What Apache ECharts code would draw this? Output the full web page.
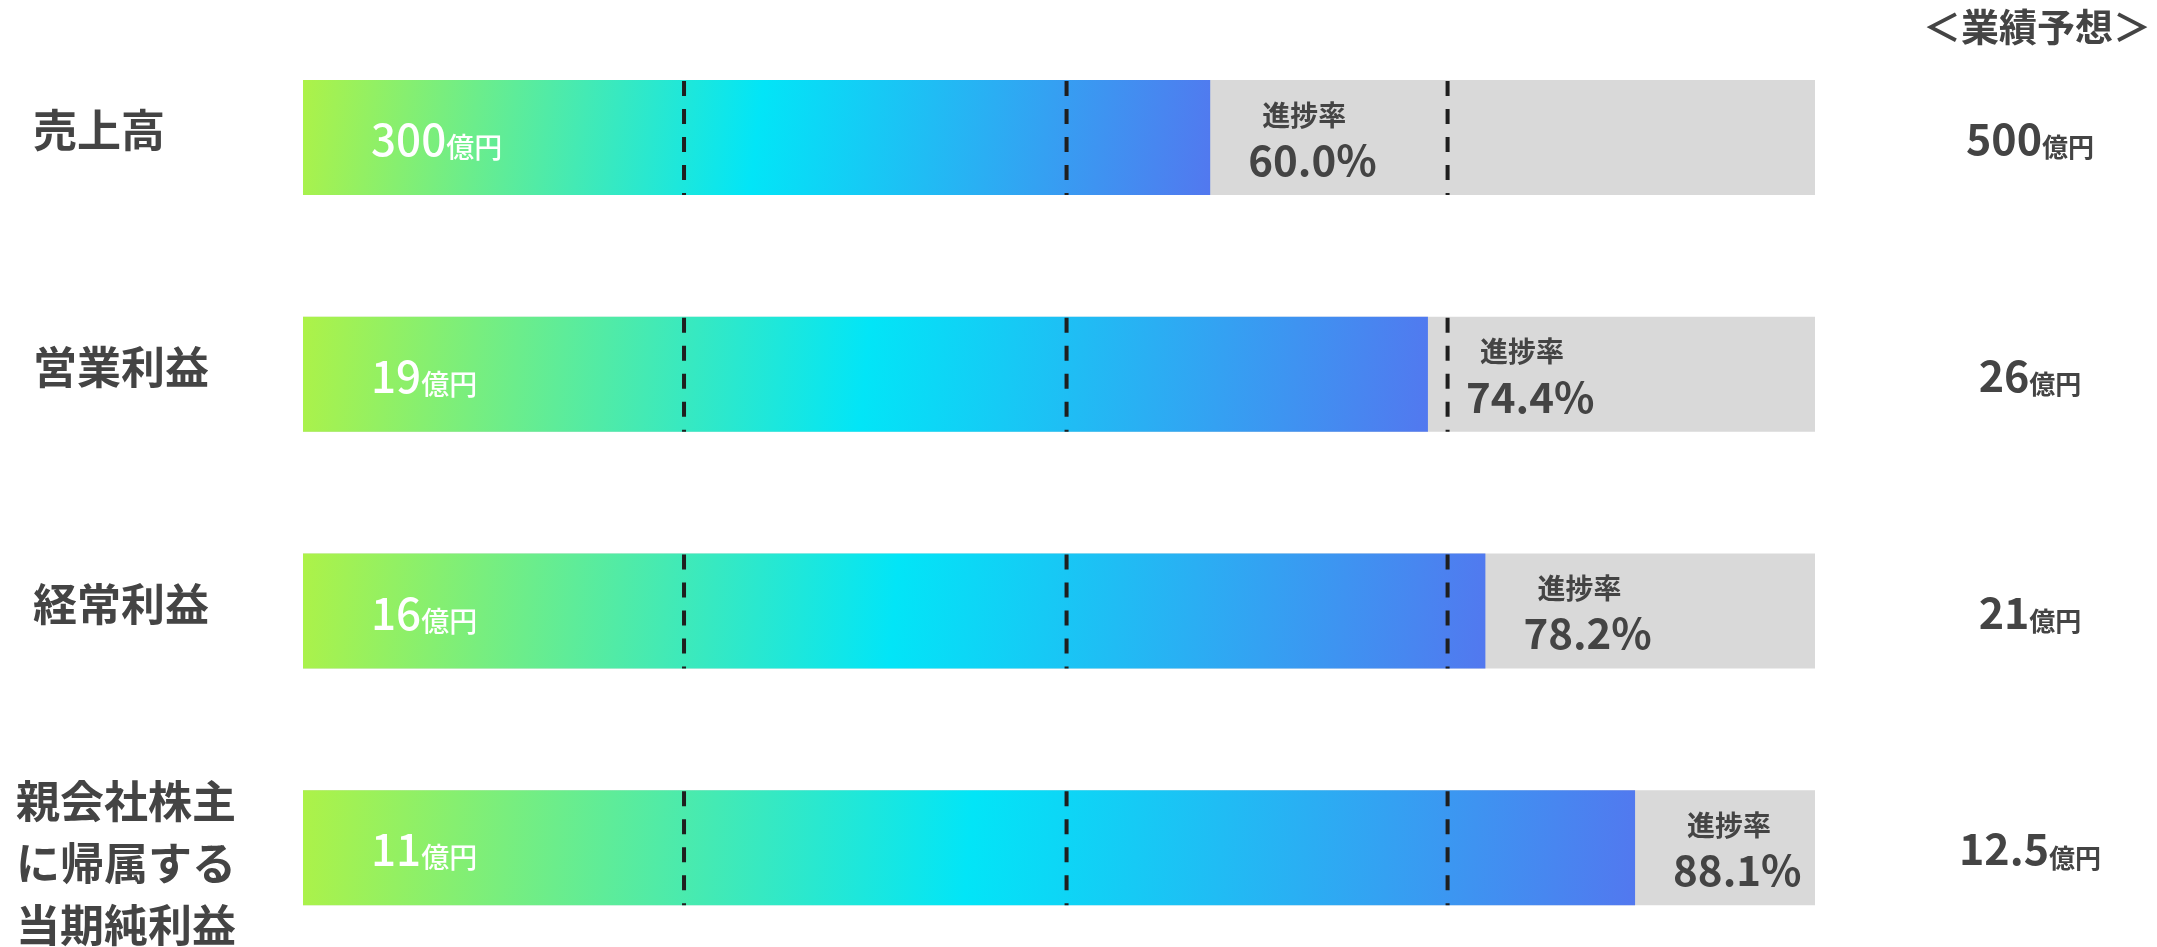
<!DOCTYPE html>
<html>
<head>
<meta charset="utf-8">
<script src="https://cdn.jsdelivr.net/npm/echarts@6/dist/echarts.min.js"></script>
<style>
html,body{margin:0;padding:0;background:#fff;overflow:hidden;width:2157px;height:947px;}
#chart{width:2157px;height:1000px;}
</style>
</head>
<body>
<div id="chart"></div>
<script>
// ---- data ----
const categories = ['売上高', '営業利益', '経常利益', '親会社株主\nに帰属する\n当期純利益'];
const actualValues = ['300', '19', '16', '11'];          // 億円
const forecastValues = ['500', '26', '21', '12.5'];      // 億円
const progressRates = [60.0, 74.4, 78.2, 88.1];          // %
const quarterMarks = [25.2, 50.5, 75.7];                 // dashed guide positions (%)
const forecastTitle = '＜業績予想＞';
const progressLabel = '進捗率';
const unitLabel = '億円';

const FONT = '"Noto Sans CJK JP", "Noto Sans", sans-serif';
const BAR_W = 115;
const TEXT = '#444444';

const chart = echarts.init(document.getElementById('chart'), null, {renderer: 'canvas'});

const gradient = new echarts.graphic.LinearGradient(0, 0, 1, 1, [
  {offset: 0, color: '#adf248'},
  {offset: 0.5, color: '#02e5f7'},
  {offset: 1, color: '#5278ef'}
]);

const option = {
  backgroundColor: '#ffffff',
  animation: false,
  textStyle: {fontFamily: FONT},
  title: {
    text: forecastTitle,
    left: 2032,
    top: 3,
    textAlign: 'center',
    textStyle: {fontFamily: FONT, fontSize: 38, fontWeight: 'bold', color: TEXT}
  },
  grid: {left: 303, width: 1512, top: 19, height: 947, containLabel: false},
  xAxis: {
    type: 'value', min: 0, max: 100,
    show: false
  },
  yAxis: [
    {
      type: 'category', inverse: true, data: categories,
      axisLine: {show: false}, axisTick: {show: false}, splitLine: {show: false},
      axisLabel: {
        align: 'left',
        margin: 287,
        lineHeight: 62,
        formatter: function (v, i) {
          if (v.indexOf('\n') >= 0) {
            const lines = v.split('\n');
            return '{sp|.}\n' + lines.map(function (l) { return '{m|' + l + '}'; }).join('\n');
          }
          return '{s|' + v + '}\n{sq|.}';
        },
        rich: {
          s: {fontFamily: FONT, fontSize: 44, fontWeight: 'bold', color: TEXT, lineHeight: 62, padding: [0, 0, 0, 17]},
          sp: {fontSize: 2, lineHeight: 31, color: 'rgba(0,0,0,0)'},
          sq: {fontSize: 2, lineHeight: 14, color: 'rgba(0,0,0,0)'},
          m: {fontFamily: FONT, fontSize: 44, fontWeight: 'bold', color: TEXT, lineHeight: 62}
        }
      }
    },
    {
      type: 'category', inverse: true, data: categories, position: 'right',
      axisLine: {show: false}, axisTick: {show: false}, splitLine: {show: false},
      axisLabel: {
        align: 'center',
        margin: 215,
        formatter: function (v, i) {
          return '{n|' + forecastValues[i] + '}{u|' + unitLabel + '}';
        },
        rich: {
          n: {fontFamily: FONT, fontSize: 43, fontWeight: 'bold', color: TEXT, verticalAlign: 'bottom', lineHeight: 46},
          u: {fontFamily: FONT, fontSize: 26, fontWeight: 'bold', color: TEXT, verticalAlign: 'bottom', lineHeight: 40}
        }
      }
    }
  ],
  series: [
    {
      type: 'bar',
      name: 'progress',
      data: progressRates,
      barWidth: BAR_W,
      showBackground: true,
      backgroundStyle: {color: '#d9d9d9'},
      itemStyle: {color: gradient},
      z: 2,
      label: {
        show: true,
        position: 'insideLeft',
        distance: 68,
        formatter: function (p) {
          return '{n|' + actualValues[p.dataIndex] + '}{u|' + unitLabel + '}';
        },
        rich: {
          n: {fontFamily: FONT, fontSize: 44, fontWeight: 500, color: '#ffffff', verticalAlign: 'bottom', lineHeight: 48},
          u: {fontFamily: FONT, fontSize: 28, fontWeight: 500, color: '#ffffff', verticalAlign: 'bottom', lineHeight: 42}
        }
      }
    },
    {
      type: 'bar',
      name: 'rate',
      data: progressRates,
      barWidth: BAR_W,
      barGap: '-100%',
      itemStyle: {color: 'rgba(0,0,0,0)'},
      z: 4,
      label: {
        show: true,
        position: 'right',
        distance: 38,
        formatter: function (p) {
          return '{a|' + progressLabel + '}\n{b|' + progressRates[p.dataIndex].toFixed(1) + '%}';
        },
        rich: {
          a: {fontFamily: FONT, fontSize: 28, fontWeight: 'bold', color: TEXT, lineHeight: 45, padding: [0, 0, 0, 14]},
          b: {fontFamily: FONT, fontSize: 42, fontWeight: 'bold', color: TEXT, lineHeight: 45}
        }
      }
    },
    {
      type: 'custom',
      name: 'quarters',
      z: 5,
      silent: true,
      data: categories.map(function (c, i) { return [0, i]; }),
      renderItem: function (params, api) {
        const idx = api.value(1);
        const yc = api.coord([0, idx])[1];
        const half = BAR_W / 2;
        return {
          type: 'group',
          children: quarterMarks.map(function (q) {
            const x = api.coord([q, idx])[0];
            return {
              type: 'line',
              shape: {x1: x, y1: yc - half + 1, x2: x, y2: yc + half},
              style: {stroke: '#1f1f1f', lineWidth: 4, lineDash: [15, 13]}
            };
          })
        };
      }
    }
  ]
};

chart.setOption(option);
</script>
</body>
</html>
